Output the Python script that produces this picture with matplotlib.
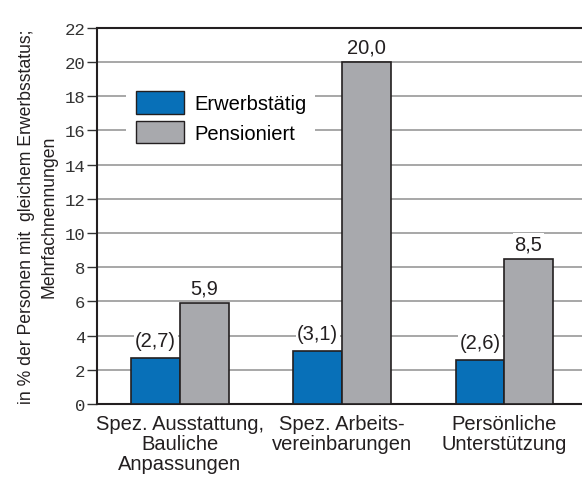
import matplotlib.pyplot as plt
import numpy as np

categories = ["Spez. Ausstattung,\nBauliche\nAnpassungen",
              "Spez. Arbeits-\nvereinbarungen",
              "Persönliche\nUnterstützung"]
erwerbstaetig = [2.7, 3.1, 2.6]
pensioniert = [5.9, 20.0, 8.5]
yticks = list(range(0, 23, 2))

blue = "#0870b8"
grey = "#a8a9ad"
edge = "#231f20"

plt.rcParams["font.family"] = ["Liberation Sans", "DejaVu Sans"]

fig = plt.figure(figsize=(5.82, 4.81), dpi=100)
ax = fig.add_axes([0.1667, 0.158, 0.8333, 0.782])

x = np.arange(len(categories))
w = 0.3
ax.bar(x - w / 2, erwerbstaetig, w, color=blue, edgecolor=edge, linewidth=1.2,
       label="Erwerbstätig", zorder=3)
ax.bar(x + w / 2, pensioniert, w, color=grey, edgecolor=edge, linewidth=1.2,
       label="Pensioniert", zorder=3)

box = dict(facecolor="white", edgecolor="none", pad=1)
for xi, v in zip(x - w / 2, erwerbstaetig):
    ax.text(xi, v + 0.45, f"({v:.1f})".replace(".", ","), ha="center", va="bottom",
            fontsize=14.5, color=edge, zorder=4, bbox=box)
for xi, v in zip(x + w / 2, pensioniert):
    ax.text(xi, v + 0.3, f"{v:.1f}".replace(".", ","), ha="center", va="bottom",
            fontsize=14.5, color=edge, zorder=4, bbox=box)

ax.set_xlim(-0.512, 2.48)
ax.set_ylim(0, 22)
ax.set_yticks(yticks)
ax.set_yticklabels([str(t) for t in yticks], family="Liberation Mono", fontsize=12.5,
                   color="#333333")
ax.tick_params(axis="y", length=7.5, width=1, color="#333333", pad=1)
ax.tick_params(axis="x", length=0, pad=7)
ax.set_xticks(x)
ax.set_xticklabels(categories, fontsize=14.5, color=edge, linespacing=1.06)
ax.yaxis.grid(True, color="#a0a0a0", linewidth=1.3, zorder=0)
ax.set_axisbelow(True)

for s in ["left", "top", "bottom"]:
    ax.spines[s].set_color(edge)
    ax.spines[s].set_linewidth(1.5)
ax.spines["right"].set_visible(False)

ax.set_ylabel("in % der Personen mit  gleichem Erwerbsstatus;\nMehrfachnennungen",
              fontsize=12.7, color=edge, labelpad=5, linespacing=1.4)

leg = ax.legend(loc="upper left", bbox_to_anchor=(0.04, 0.883), fontsize=14.5,
                frameon=True, fancybox=False, edgecolor="none", framealpha=1,
                handlelength=2.4, handleheight=1.35, labelspacing=0.35,
                borderpad=0.45, handletextpad=0.5)
for h in leg.legend_handles:
    h.set_linewidth(1.0)
leg.set_zorder(5)

fig.savefig("out.png", dpi=100)
